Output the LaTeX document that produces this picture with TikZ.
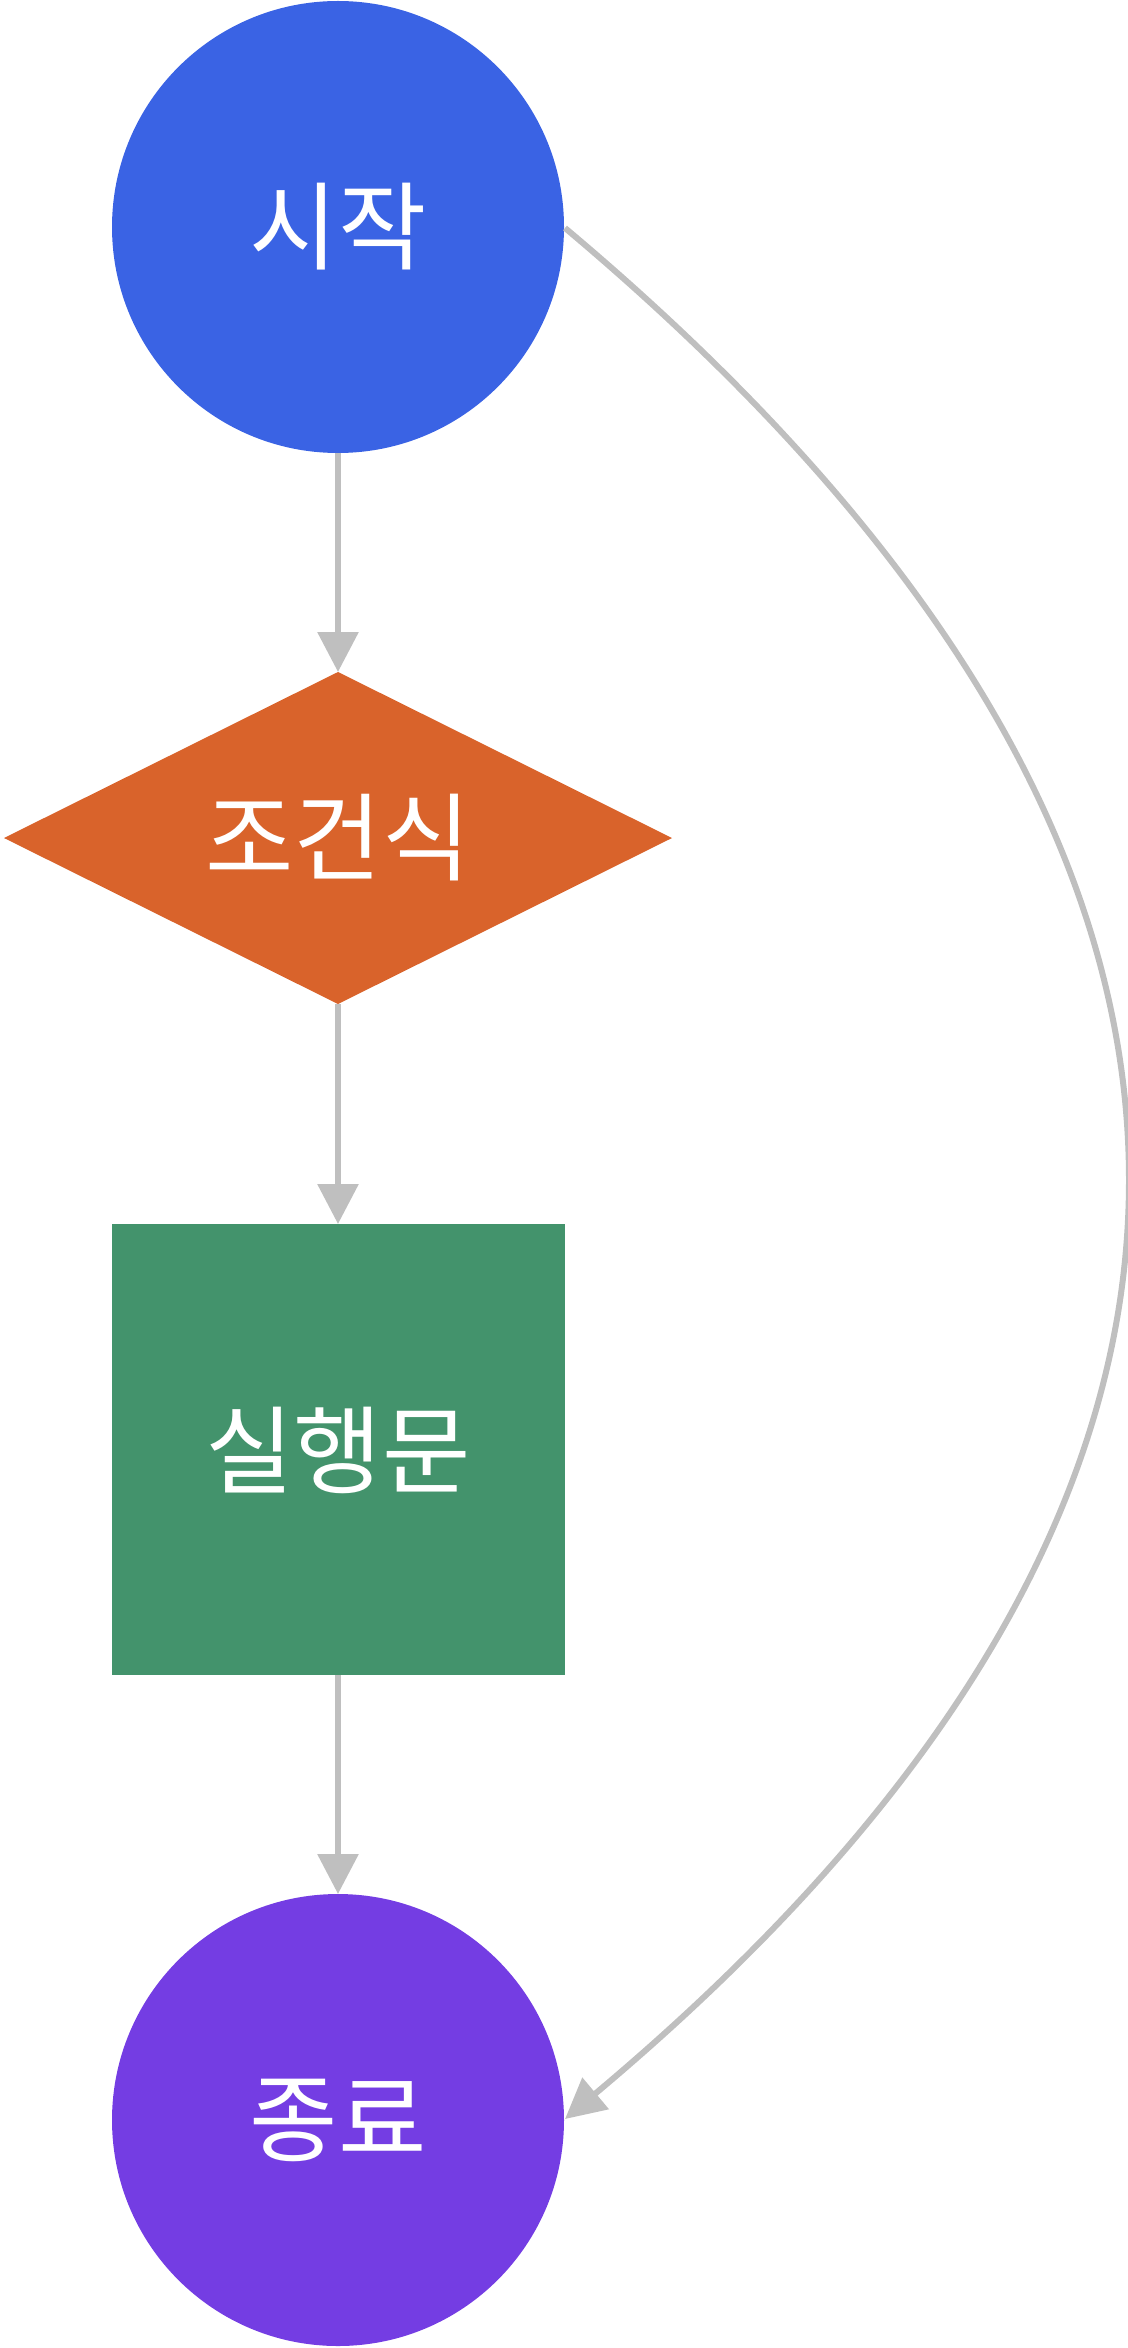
\documentclass[tikz,border=0pt]{standalone}
\usepackage{fontspec}
\newfontfamily\kr{Noto Sans CJK KR}
\usetikzlibrary{arrows.meta}
\definecolor{cblue}{HTML}{3A63E4}
\definecolor{corange}{HTML}{D9632B}
\definecolor{cgreen}{HTML}{43936C}
\definecolor{cpurple}{HTML}{743DE3}
\definecolor{cgray}{HTML}{BFBFBF}
\begin{document}
\begin{tikzpicture}[x=0.5pt,y=-0.5pt,
  lbl/.style={text=white,font=\kr\fontsize{48}{56}\selectfont,inner sep=0},
  conn/.style={draw=cgray,line width=3pt,-{Triangle[width=20pt,length=20pt]}}]
\useasboundingbox (0,0) rectangle (1128,2348);
\fill[cblue] (338,227) circle (226);
\node[lbl] (start) at (338,227) {시작};
\coordinate (startb) at (338,453);
\coordinate (startr) at (565,228);
\fill[corange] (4,838) -- (338,672) -- (672,838) -- (338,1004) -- cycle;
\node[lbl] (cond) at (338,838) {조건식};
\coordinate (condt) at (338,672);
\coordinate (condb) at (338,1004);
\fill[cgreen] (112,1224) rectangle (565,1675);
\node[lbl] (body) at (338,1450) {실행문};
\coordinate (bodyt) at (338,1224);
\coordinate (bodyb) at (338,1675);
\fill[cpurple] (338,2120) circle (226);
\node[lbl] (end) at (338,2120) {종료};
\coordinate (endt) at (338,1894);
\coordinate (endr) at (565,2119);
\draw[conn] (startb) -- (condt);
\draw[conn] (condb) -- (bodyt);
\draw[conn] (bodyb) -- (endt);
\draw[conn] (startr) .. controls (1312,855) and (1312,1493) .. (endr);
\end{tikzpicture}
\end{document}
